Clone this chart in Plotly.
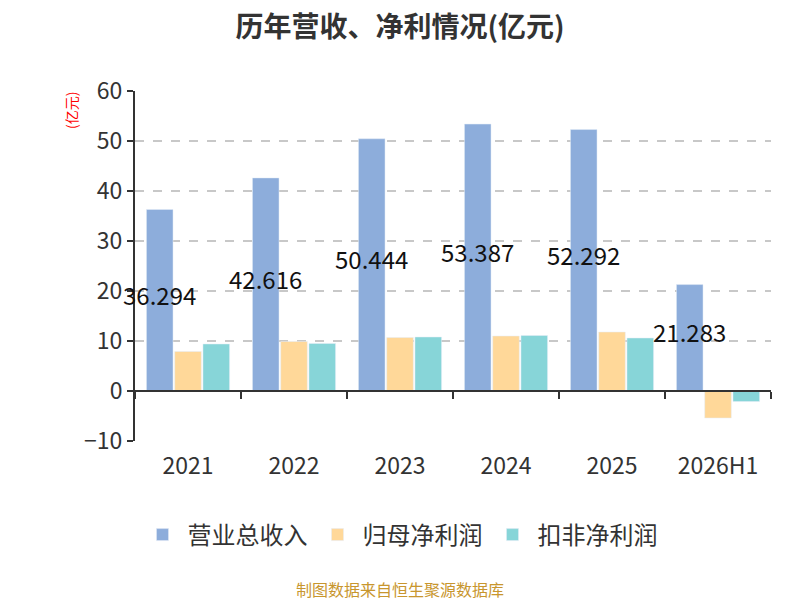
import plotly.graph_objects as go

# data (亿元)
years = ["2021", "2022", "2023", "2024", "2025", "2026H1"]
revenue = [36.294, 42.616, 50.444, 53.387, 52.292, 21.283]
net_profit = [7.9, 9.9, 10.7, 11.0, 11.8, -5.4]
net_profit_deducted = [9.4, 9.5, 10.8, 11.1, 10.6, -2.1]

series_names = ["营业总收入", "归母净利润", "扣非净利润"]
colors = ["#8DADDB", "#FFD899", "#87D5D8"]

FONT = "Noto Sans CJK SC, Noto Sans, sans-serif"
OFF = 8  # page body margin in the browser
W, H = 800 - OFF, 600 - OFF  # so the figure fits the 800x600 window
L, R, T, B = 127, 29, 83, 159
y_min, y_max = -10, 60
BARGAP = 0.2

fig = go.Figure()
fig.add_trace(go.Bar(x=years, y=revenue, name=series_names[0], marker_color=colors[0]))
fig.add_trace(go.Bar(x=years, y=net_profit, name=series_names[1], marker_color=colors[1]))
fig.add_trace(go.Bar(x=years, y=net_profit_deducted, name=series_names[2], marker_color=colors[2]))

plot_w = W - L - R
plot_h = H - T - B

# revenue labels sit in the middle of the revenue bar (first bar in each group)
# x is the category index, so numeric-looking years are not read as numbers
slot_px = plot_w / len(years) * (1 - BARGAP) / 3
for i, v in enumerate(revenue):
    fig.add_annotation(x=i, y=v / 2, text=f"{v:.3f}", showarrow=False,
                       xshift=-slot_px, yshift=6,
                       font=dict(size=24, color="#111"))

fig.update_layout(
    width=W, height=H,
    margin=dict(l=L, r=R, t=T, b=B, autoexpand=False),
    paper_bgcolor="white", plot_bgcolor="white",
    font=dict(family=FONT, color="#333"),
    barmode="group", bargap=BARGAP, bargroupgap=0.06,
    title=dict(text="<b>历年营收、净利情况(亿元)</b>", x=(400 - OFF) / W, xanchor="center",
               y=1 - (27 - OFF) / H, yanchor="middle", font=dict(size=28, color="#333")),
    legend=dict(orientation="h", xref="container", x=(400 - OFF) / W, xanchor="center",
                yref="container", y=1 - (535 - OFF) / H, yanchor="middle",
                font=dict(size=24, color="#333"), itemwidth=40, traceorder="normal"),
    showlegend=True,
)

fig.update_xaxes(
    type="category", range=[-0.5, len(years) - 0.5], anchor="free",
    position=(0 - y_min) / (y_max - y_min),
    showline=True, linecolor="#333", linewidth=2,
    ticks="outside", tickson="boundaries", ticklen=7, tickwidth=2, tickcolor="#333",
    ticklabelstandoff=54, tickfont=dict(size=23, color="#333"),
    showgrid=False,
)
fig.update_yaxes(
    range=[y_min, y_max], dtick=10,
    showline=True, linecolor="#333", linewidth=2,
    ticks="outside", ticklen=6, tickwidth=2, tickcolor="#333",
    tickfont=dict(size=23, color="#333"),
    showgrid=True, gridcolor="#c8c8c8", griddash="dash", gridwidth=1.5,
    zeroline=False,
)

# unit label next to the y axis
fig.add_annotation(text="(亿元)", textangle=-90, showarrow=False,
                   xref="paper", yref="paper", xanchor="center", yanchor="middle",
                   x=(71 - OFF - L) / plot_w, y=(H - B - (111 - OFF)) / plot_h,
                   font=dict(size=14, color="red"))
# source note
fig.add_annotation(text="制图数据来自恒生聚源数据库", showarrow=False,
                   xref="paper", yref="paper", xanchor="center", yanchor="middle",
                   x=(400 - OFF - L) / plot_w, y=(H - B - (589 - OFF)) / plot_h,
                   font=dict(size=16, color="#C8962E"))

fig.write_html("out.html")
